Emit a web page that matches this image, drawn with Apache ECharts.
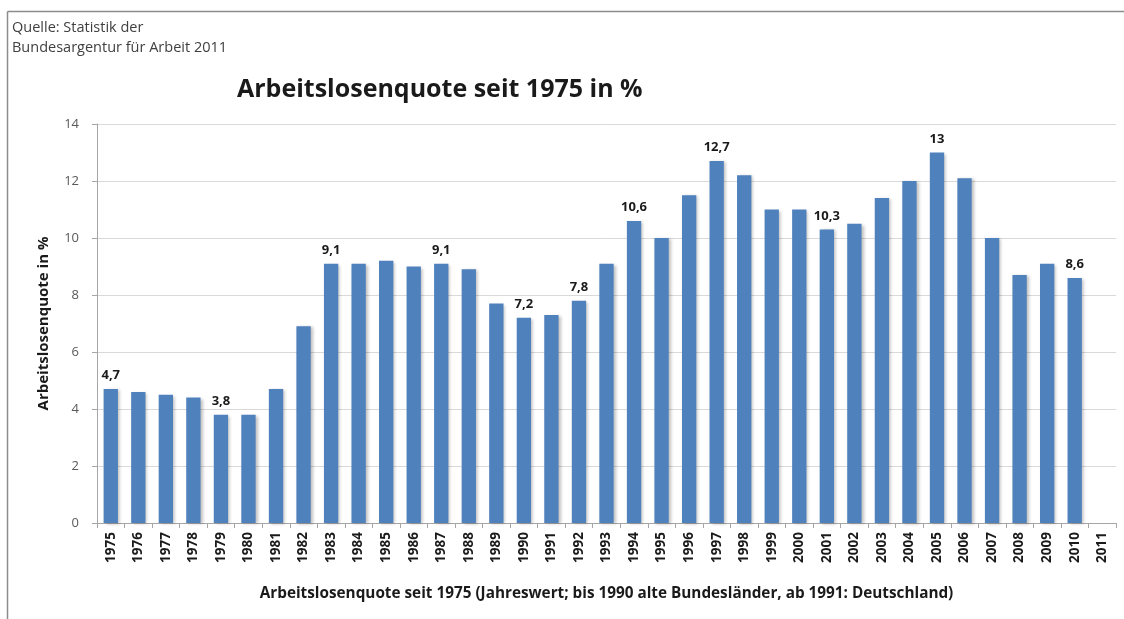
<!DOCTYPE html>
<html>
<head>
<meta charset="utf-8">
<script src="https://cdn.jsdelivr.net/npm/echarts@6/dist/echarts.min.js"></script>
<style>
html,body{margin:0;padding:0;background:#fff;}
#c{width:1124px;height:619px;}
</style>
</head>
<body>
<div id="c"></div>
<script>
const years = ['1975','1976','1977','1978','1979','1980','1981','1982','1983','1984','1985','1986','1987','1988','1989','1990','1991','1992','1993','1994','1995','1996','1997','1998','1999','2000','2001','2002','2003','2004','2005','2006','2007','2008','2009','2010','2011'];
const quote = [4.7,4.6,4.5,4.4,3.8,3.8,4.7,6.9,9.1,9.1,9.2,9.0,9.1,8.9,7.7,7.2,7.3,7.8,9.1,10.6,10.0,11.5,12.7,12.2,11.0,11.0,10.3,10.5,11.4,12.0,13.0,12.1,10.0,8.7,9.1,8.6,null];
const labeledYears = ['1975','1979','1983','1987','1990','1992','1994','1997','2001','2005','2010'];
const yTicks = [0,2,4,6,8,10,12,14];
const titleText = 'Arbeitslosenquote seit 1975 in %';
const sourceText = 'Quelle: Statistik der\nBundesargentur für Arbeit 2011';
const xName = 'Arbeitslosenquote seit 1975 (Jahreswert; bis 1990 alte Bundesländer, ab 1991: Deutschland)';
const yName = 'Arbeitslosenquote in %';

const FONT = '"Open Sans", Lato, sans-serif';
const chart = echarts.init(document.getElementById('c'));
const seriesData = quote.map((v, i) => ({
  value: v,
  label: { show: labeledYears.includes(years[i]) && v !== null }
}));

chart.setOption({
  backgroundColor: '#ffffff',
  animation: false,
  graphic: [
    { type: 'line', shape: { x1: 7.5, y1: 11.5, x2: 1124, y2: 11.5 }, style: { stroke: '#8c8c8c', lineWidth: 1.5 } },
    { type: 'line', shape: { x1: 7.5, y1: 11.5, x2: 7.5, y2: 619 }, style: { stroke: '#8c8c8c', lineWidth: 1.5 } },
    { type: 'text', left: 12, top: 18, style: { text: sourceText, font: '14.5px ' + FONT, fill: '#404040', lineHeight: 20 } }
  ],
  title: {
    text: titleText,
    left: 232, top: 72,
    textStyle: { fontFamily: FONT, fontSize: 25, fontWeight: 'bold', color: '#1a1a1a' }
  },
  grid: { left: 97, right: 8, top: 124, bottom: 96, containLabel: false },
  xAxis: {
    type: 'category',
    data: years,
    name: xName,
    nameLocation: 'middle',
    nameGap: 63,
    nameTextStyle: { fontFamily: FONT, fontSize: 15.3, fontWeight: 'bold', color: '#1a1a1a' },
    axisLine: { lineStyle: { color: '#a6a6a6' } },
    axisTick: { show: true, length: 5, alignWithLabel: false, lineStyle: { color: '#a6a6a6' } },
    axisLabel: { rotate: 90, fontFamily: FONT, fontSize: 13.5, fontWeight: 'bold', color: '#1a1a1a', margin: 9 }
  },
  yAxis: {
    type: 'value',
    min: yTicks[0], max: yTicks[yTicks.length - 1], interval: 2,
    name: yName,
    nameLocation: 'middle',
    nameGap: 46,
    nameTextStyle: { fontFamily: FONT, fontSize: 15, fontWeight: 'bold', color: '#1a1a1a' },
    axisLine: { show: true, lineStyle: { color: '#a6a6a6' } },
    axisTick: { show: true, length: 5, lineStyle: { color: '#a6a6a6' } },
    axisLabel: { fontFamily: FONT, fontSize: 13, color: '#595959', margin: 18 },
    splitLine: { lineStyle: { color: '#d9d9d9', width: 1 } }
  },
  series: [{
    type: 'bar',
    data: seriesData,
    barWidth: '52%',
    itemStyle: {
      color: '#4f81bd',
      shadowColor: 'rgba(0,0,0,0.25)',
      shadowBlur: 3,
      shadowOffsetX: 2,
      shadowOffsetY: 1
    },
    label: {
      position: 'top',
      distance: 7,
      fontFamily: FONT, fontSize: 13, fontWeight: 'bold', color: '#1a1a1a',
      formatter: p => String(p.value).replace('.', ',')
    }
  }]
});
</script>
</body>
</html>
